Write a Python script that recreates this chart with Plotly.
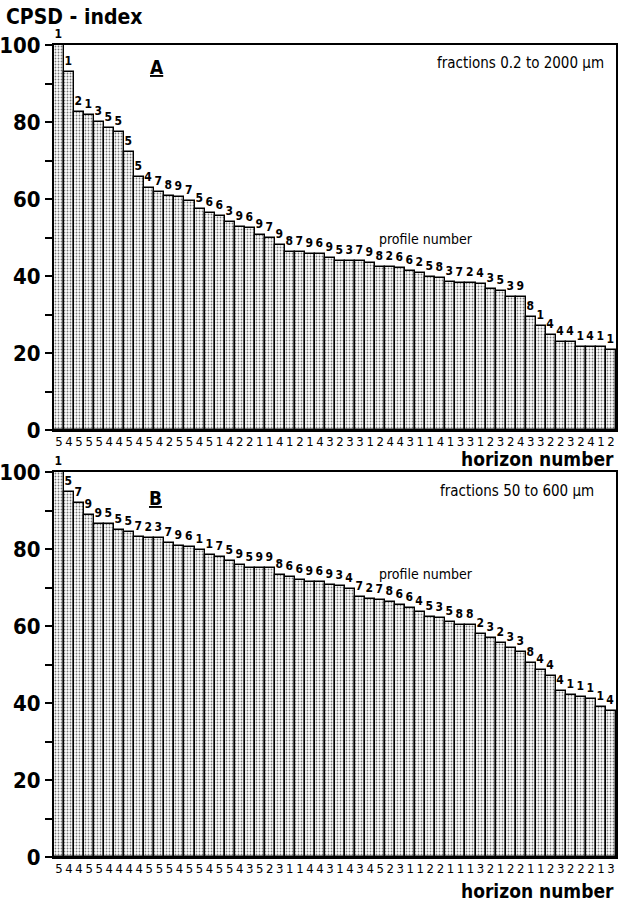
import plotly.graph_objects as go

# ---------------- data ----------------
A_values = [100, 93.1, 82.5, 81.8, 80.1, 78.4, 77.3, 72.3, 65.6, 62.9,
            61.9, 60.8, 60.4, 59.6, 57.4, 56.3, 55.6, 54.1, 52.6, 52.4,
            50.6, 49.8, 48.1, 46.3, 46.3, 45.7, 45.7, 44.6, 44.0, 44.0,
            44.0, 43.5, 42.4, 42.4, 42.0, 41.3, 40.7, 39.8, 39.4, 38.5,
            38.3, 38.3, 37.8, 36.5, 36.2, 34.6, 34.6, 29.3, 27.0, 24.7,
            22.9, 22.8, 21.6, 21.6, 21.5, 20.8]
A_profile = [1, 1, 2, 1, 3, 5, 5, 5, 5, 4, 7, 8, 9, 7, 5, 6, 6, 3, 9, 6,
             9, 7, 9, 8, 7, 9, 6, 9, 5, 3, 7, 9, 8, 2, 6, 6, 2, 5, 8, 3,
             7, 2, 4, 3, 5, 3, 9, 8, 1, 4, 4, 4, 1, 4, 1, 1]
A_horizon = [5, 4, 5, 5, 5, 4, 4, 5, 4, 5, 4, 2, 5, 5, 4, 5, 1, 4, 2, 2,
             1, 1, 4, 1, 2, 1, 4, 3, 2, 3, 3, 1, 2, 4, 4, 3, 1, 1, 4, 1,
             3, 3, 1, 2, 3, 2, 4, 3, 3, 2, 2, 3, 2, 4, 1, 2]

B_values = [100, 94.9, 91.9, 88.8, 86.5, 86.5, 84.9, 84.5, 83.2, 82.8,
            82.8, 81.6, 80.8, 80.4, 79.7, 78.4, 78.0, 77.0, 75.8, 75.0,
            75.0, 75.0, 73.2, 72.6, 72.0, 71.5, 71.5, 70.6, 70.4, 69.5,
            67.5, 67.0, 66.8, 66.2, 65.5, 64.6, 63.7, 62.3, 62.0, 61.1,
            60.3, 60.3, 57.8, 56.8, 55.5, 54.2, 53.3, 50.5, 48.5, 47.0,
            43.0, 42.0, 41.5, 41.0, 39.0, 38.0]
B_profile = [1, 5, 7, 9, 9, 5, 5, 5, 7, 2, 3, 7, 9, 6, 1, 1, 7, 5, 9, 5,
             9, 9, 8, 6, 6, 9, 6, 9, 3, 4, 7, 2, 7, 8, 6, 6, 4, 5, 3, 5,
             8, 8, 2, 3, 2, 3, 3, 8, 4, 4, 4, 1, 1, 1, 1, 4]
B_horizon = [5, 4, 4, 5, 5, 4, 4, 4, 4, 5, 5, 5, 4, 5, 5, 4, 5, 5, 4, 3,
             5, 2, 3, 1, 1, 4, 4, 3, 1, 4, 3, 4, 5, 2, 3, 1, 1, 2, 2, 1,
             1, 1, 3, 2, 1, 2, 2, 1, 1, 2, 3, 2, 2, 2, 1, 3]

y_ticks = [0, 20, 40, 60, 80, 100]

W, H = 621, 907
FONT = "DejaVu Sans Condensed, Liberation Sans Narrow, Arial Narrow, sans-serif"


def px(x):
    return x / W


def py(y):
    return 1 - y / H


fig = go.Figure()

panels = [
    (A_values, A_profile, A_horizon, "x", "y"),
    (B_values, B_profile, B_horizon, "x2", "y2"),
]
for vals, prof, hor, xa, ya in panels:
    xs = list(range(1, len(vals) + 1))
    fig.add_trace(go.Bar(
        x=xs, y=vals, xaxis=xa, yaxis=ya,
        text=[f"<b>{p}</b>" for p in prof], textposition="outside",
        textfont=dict(family=FONT, size=12, color="black"),
        cliponaxis=False,
        marker=dict(color="white",
                    line=dict(color="black", width=1.4),
                    pattern=dict(shape=".", size=3, solidity=0.3,
                                 fgcolor="#777", bgcolor="white",
                                 fillmode="replace")),
        showlegend=False,
    ))

n = len(A_values)
axis_common = dict(showline=True, linecolor="black", linewidth=2, mirror=True,
                   showgrid=False, zeroline=False, automargin=False)

xaxis_common = dict(axis_common, range=[0.5, n + 0.5],
                    tickmode="array", ticks="", ticklen=0,
                    ticklabelstandoff=-2,
                    tickfont=dict(family=FONT, size=13, color="black"))
yaxis_common = dict(axis_common, range=[0, 100], tickmode="array",
                    tickvals=y_ticks, ticktext=[f"<b>{v}</b>" for v in y_ticks],
                    ticks="outside", ticklen=7, tickwidth=2, tickcolor="black",
                    minor=dict(ticks="outside", ticklen=7, tickwidth=1.5,
                               tickcolor="black", dtick=10, showgrid=False),
                    tickfont=dict(family=FONT, size=22, color="black"))

fig.update_layout(
    width=W, height=H,
    margin=dict(l=0, r=0, t=0, b=0),
    paper_bgcolor="white", plot_bgcolor="white",
    bargap=0,
    xaxis=dict(xaxis_common, domain=[px(54), px(616)], anchor="y",
               tickvals=list(range(1, n + 1)),
               ticktext=[str(h) for h in A_horizon]),
    yaxis=dict(yaxis_common, domain=[py(430), py(45)], anchor="x"),
    xaxis2=dict(xaxis_common, domain=[px(54), px(616)], anchor="y2",
                tickvals=list(range(1, n + 1)),
                ticktext=[str(h) for h in B_horizon]),
    yaxis2=dict(yaxis_common, domain=[py(857), py(472)], anchor="x2"),
)

ann = []


def add(text, x, y, size, xanchor="left", bold=False):
    ann.append(dict(text=f"<b>{text}</b>" if bold else text,
                    x=px(x), y=py(y), xref="paper", yref="paper",
                    xanchor=xanchor, yanchor="middle", showarrow=False,
                    font=dict(family=FONT, size=size, color="black")))


add("CPSD - index", 4, 17, 21, bold=True)
add("<u>A</u>", 157, 67, 19, xanchor="center", bold=True)
add("fractions 0.2 to 2000 µm", 606, 63, 15, xanchor="right")
add("profile number", 377, 239, 14)
add("horizon number", 616, 459, 19, xanchor="right", bold=True)
add("<u>B</u>", 155, 498, 19, xanchor="center", bold=True)
add("fractions 50 to 600 µm", 596, 491, 15, xanchor="right")
add("profile number", 377, 574, 14)
add("horizon number", 616, 891, 19, xanchor="right", bold=True)

fig.update_layout(annotations=ann)

fig.write_html("out.html")
